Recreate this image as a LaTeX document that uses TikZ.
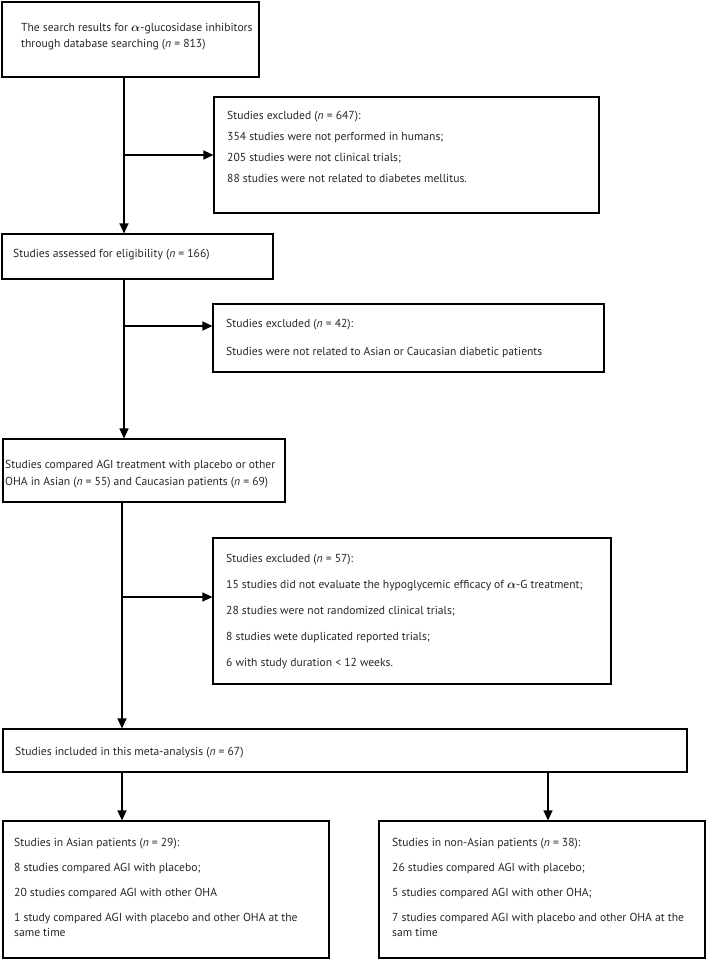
\documentclass[tikz,border=0pt]{standalone}
\usepackage{fontspec}
\setmainfont{PT Sans}
\usetikzlibrary{arrows.meta}
\begin{document}
\begin{tikzpicture}[x=1pt,y=-1pt,
  frame/.style={draw=black, line width=1.1pt, inner sep=0pt},
  txt/.style={anchor=north west, inner sep=0pt, align=left, font=\fontsize{11.6}{16}\selectfont, text=black!85},
  arr/.style={line width=1.2pt, -{Triangle[length=10pt,width=9pt]}}]
\useasboundingbox (0,0) rectangle (709,962);
% boxes
\node[frame, minimum width=257, minimum height=75]  (b1) at (130.5,39.5) {};
\node[frame, minimum width=385, minimum height=116] (e1) at (406.5,155) {};
\node[frame, minimum width=271, minimum height=45]  (b2) at (137.5,256.5) {};
\node[frame, minimum width=391, minimum height=68]  (e2) at (408.5,338) {};
\node[frame, minimum width=282, minimum height=63]  (b3) at (144,470.5) {};
\node[frame, minimum width=398, minimum height=146] (e3) at (412,611) {};
\node[frame, minimum width=684, minimum height=43]  (b4) at (345,750.5) {};
\node[frame, minimum width=326, minimum height=137] (b5) at (166,889.5) {};
\node[frame, minimum width=326, minimum height=137] (b6) at (542,889.5) {};
% texts
\node[txt] (b1t) at (21,23) {The search results for {\boldmath$\alpha$}-glucosidase inhibitors\\through database searching (\textit{n} = 813)};
\node[txt] (e1t) at (227,111.5) {Studies excluded (\textit{n} = 647):\\[5pt]354 studies were not performed in humans;\\[5pt]205 studies were not clinical trials;\\[5pt]88 studies were not related to diabetes mellitus.};
\node[txt] (b2t) at (13,249) {Studies assessed for eligibility (\textit{n} = 166)};
\node[txt] (e2t) at (226,319) {Studies excluded (\textit{n} = 42):\\[12pt]Studies were not related to Asian or Caucasian diabetic patients};
\node[txt] (b3t) at (5,460) {Studies compared AGI treatment with placebo or other\\[1pt]OHA in Asian (\textit{n} = 55) and Caucasian patients (\textit{n} = 69)};
\node[txt] (e3t) at (226,554.5) {Studies excluded (\textit{n} = 57):\\[10pt]15 studies did not evaluate the hypoglycemic efficacy of {\boldmath$\alpha$}-G treatment;\\[10pt]28 studies were not randomized clinical trials;\\[10pt]8 studies wete duplicated reported trials;\\[10pt]6 with study duration {\textless} 12 weeks.};
\node[txt] (b4t) at (15,747) {Studies included in this meta-analysis (\textit{n} = 67)};
\node[txt] (b5t) at (14,838.5) {Studies in Asian patients (\textit{n} = 29):\\[9pt]8 studies compared AGI with placebo;\\[9pt]20 studies compared AGI with other OHA\\[9pt]1 study compared AGI with placebo and other OHA at the\\[-1pt]same time};
\node[txt] (b6t) at (392,838.5) {Studies in non-Asian patients (\textit{n} = 38):\\[9pt]26 studies compared AGI with placebo;\\[9pt]5 studies compared AGI with other OHA;\\[9pt]7 studies compared AGI with placebo and other OHA at the\\[-1pt]sam time};
% connectors
\coordinate (sp) at (124,0);
\coordinate (sp2) at (122,0);
\coordinate (sp3) at (548,0);
\coordinate (a2) at (124,326);
\coordinate (a3) at (122,597);
\draw[arr] (b1.south -| sp) -- (b2.north -| sp);
\draw[arr] (sp |- e1.west) -- (e1.west);
\draw[arr] (b2.south -| sp) -- (b3.north -| sp);
\draw[arr] (a2) -- (a2 -| e2.west);
\draw[arr] (b3.south -| sp2) -- (b4.north -| sp2);
\draw[arr] (a3) -- (a3 -| e3.west);
\draw[arr] (b4.south -| sp2) -- (b5.north -| sp2);
\draw[arr] (b4.south -| sp3) -- (b6.north -| sp3);
\end{tikzpicture}
\end{document}
